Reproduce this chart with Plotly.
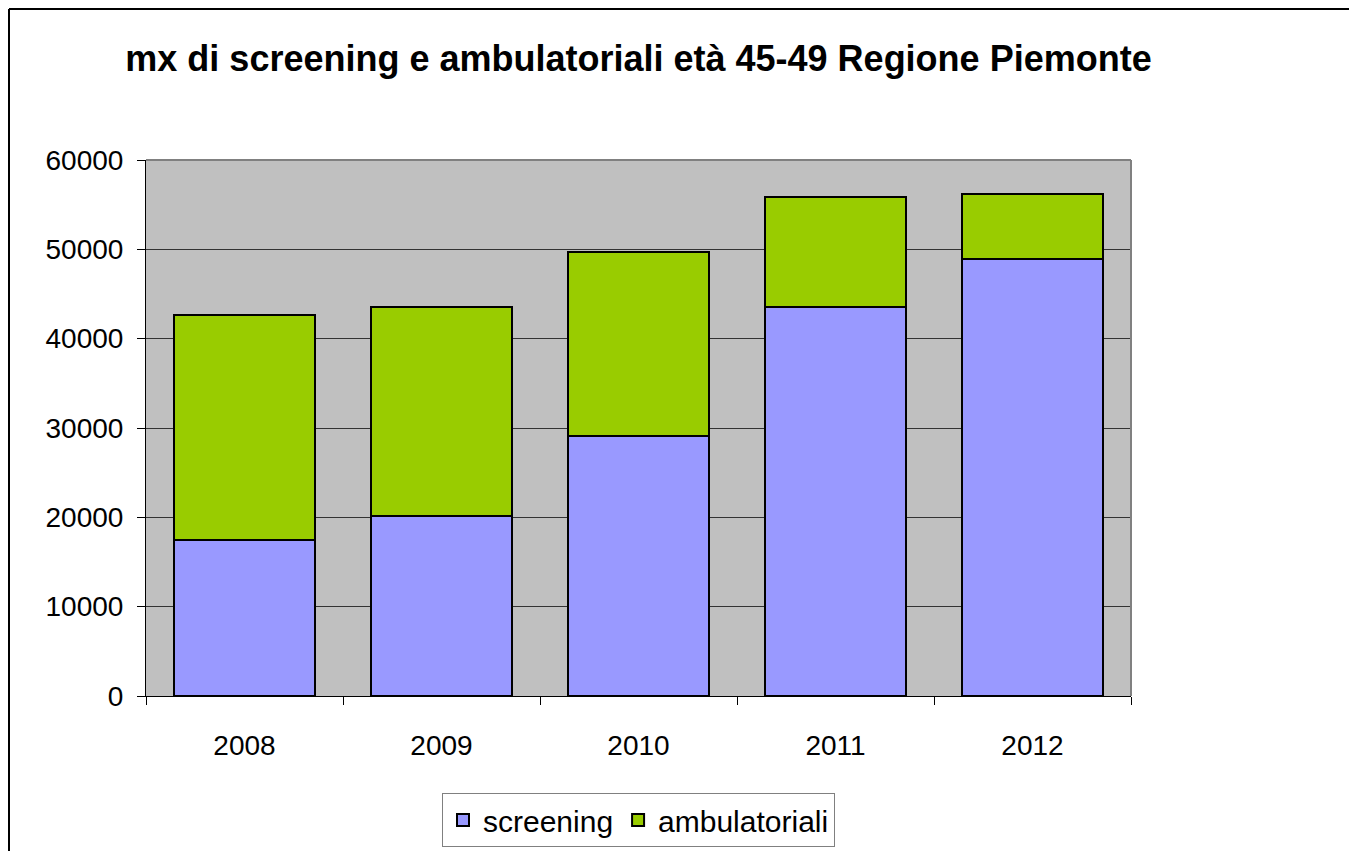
import plotly.graph_objects as go

years = ["2008", "2009", "2010", "2011", "2012"]
screening = [17500, 20100, 29100, 43500, 48900]
ambulatoriali = [25100, 23400, 20600, 12400, 7300]
title_text = "mx di screening e ambulatoriali età 45-49 Regione Piemonte"

FONT = "Liberation Sans, Arial, sans-serif"

# figure is drawn with an 8px page offset; plot area in figure coords
L, T, W, H = 138, 152, 985, 536

fig = go.Figure()
fig.add_trace(go.Bar(x=years, y=screening, name="screening",
                     marker=dict(color="#9999FF", line=dict(color="black", width=2))))
fig.add_trace(go.Bar(x=years, y=ambulatoriali, name="ambulatoriali",
                     marker=dict(color="#99CC00", line=dict(color="black", width=2))))

px = lambda x: (x - L) / W
py = lambda y: (T + H - y) / H

fig.update_layout(
    width=1357, height=851,
    barmode="stack", bargap=0.284,
    paper_bgcolor="white", plot_bgcolor="#C0C0C0",
    margin=dict(l=L, r=1357 - L - W, t=T, b=851 - T - H, autoexpand=False),
    font=dict(family=FONT, size=28, color="black"),
    title=dict(text="<b>" + title_text + "</b>", x=0.5, xref="paper", xanchor="center",
               y=1 - 50 / 851, yref="container", yanchor="middle",
               font=dict(family=FONT, size=36, color="black")),
    showlegend=True,
    legend=dict(orientation="h", x=0.5, xanchor="center", y=py(785), yanchor="top",
                bordercolor="#808080", borderwidth=1, bgcolor="white", traceorder="normal",
                font=dict(family=FONT, size=30), itemwidth=30),
    xaxis=dict(type="category", showline=True, linecolor="black", linewidth=1,
               ticks="outside", ticklen=8, tickcolor="black", tickson="boundaries",
               showgrid=False, ticklabelstandoff=24,
               tickfont=dict(family=FONT, size=28)),
    yaxis=dict(range=[0, 60000], dtick=10000, tickformat="d", showline=True,
               linecolor="black", linewidth=1,
               ticks="outside", ticklen=8, tickcolor="black",
               showgrid=True, gridcolor="#333333", gridwidth=1,
               zeroline=False, ticklabelstandoff=8,
               tickfont=dict(family=FONT, size=28)),
    shapes=[
        dict(type="line", xref="paper", yref="paper", x0=0, x1=1, y0=1, y1=1,
             line=dict(color="#808080", width=2)),
        dict(type="line", xref="paper", yref="paper", x0=1, x1=1, y0=0, y1=1,
             line=dict(color="#808080", width=2)),
        dict(type="line", xref="paper", yref="paper", x0=px(1), x1=px(1400),
             y0=py(1), y1=py(1), line=dict(color="black", width=2)),
        dict(type="line", xref="paper", yref="paper", x0=px(1), x1=px(1),
             y0=py(1), y1=py(900), line=dict(color="black", width=2)),
    ],
)

fig.write_html("out.html")
